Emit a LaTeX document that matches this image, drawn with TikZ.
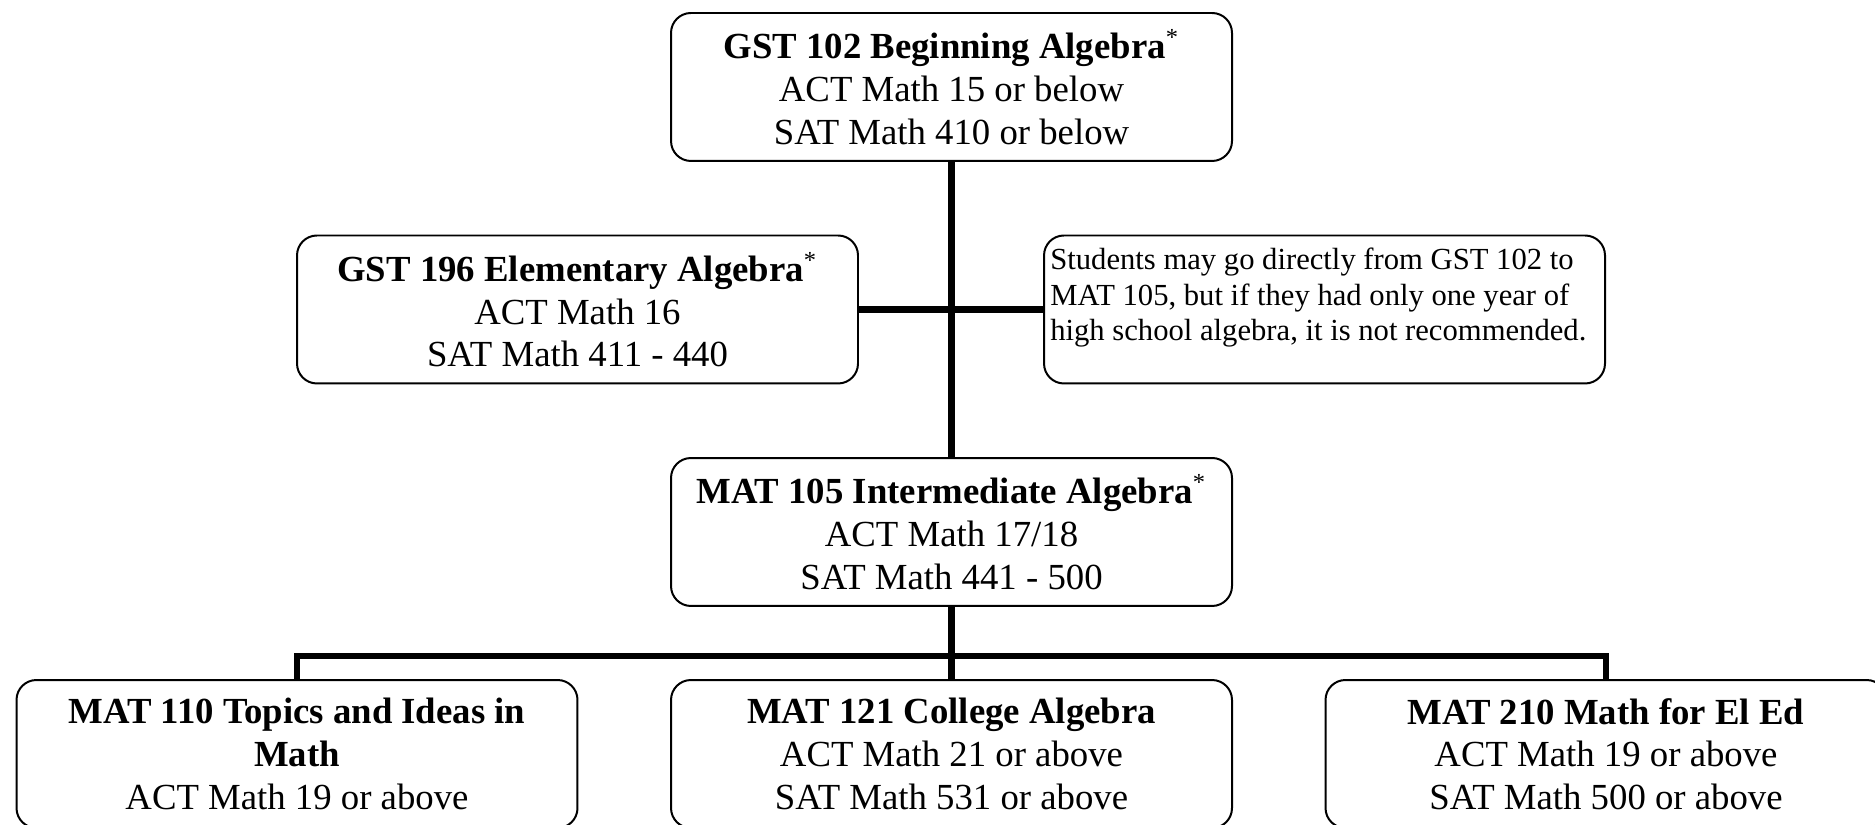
\documentclass[tikz,border=0pt]{standalone}
\usepackage{fontspec}
\setmainfont{Liberation Serif}
\usepackage{tikz}
\usetikzlibrary{positioning}
\tikzset{
  course/.style={rectangle, rounded corners=6.5pt, draw=black, line width=0.65pt,
                 fill=white, minimum width=183.1pt, minimum height=48.3pt,
                 inner sep=2pt, align=center,
                 font=\fontsize{12}{13.9}\selectfont},
  memo/.style={course, inner xsep=2pt, inner ysep=4.2pt,
               font=\fontsize{10}{11.5}\selectfont},
  link/.style={line width=2pt, black},
}
\newcommand{\ctitle}[1]{\textbf{#1}}

\begin{document}
\begin{tikzpicture}[x=0.3264pt, y=-0.3264pt]
  % ── Canvas ──────────────────────────────────────────────────────────────────
  \path[use as bounding box, fill=white] (0,0) rectangle (1875,825);
  \clip (0,0) rectangle (1875,825);

  % ── Connectors (behind the boxes) ──────────────────────────────────────────
  \coordinate (bus) at (951.5,656);

  % ── Nodes ──────────────────────────────────────────────────────────────────
  \node[course] at (951.5, 87)   (gst102) {\ctitle{GST 102 Beginning Algebra}\textsuperscript{*}\\ACT Math 15 or below\\SAT Math 410 or below};
  \node[course] at (577.5, 309.5) (gst196) {\ctitle{GST 196 Elementary Algebra}\textsuperscript{*}\\ACT Math 16\\SAT Math 411 - 440};
  \node[memo]   at (1324.5,309.5) (note)   {\parbox[t][39.9pt][t]{179pt}{\raggedright
      Students may go directly from GST 102 to\\MAT 105, but if they had only one year of\\high school algebra, it is not recommended.}};
  \node[course] at (951.5, 532)  (mat105) {\ctitle{MAT 105 Intermediate Algebra}\textsuperscript{*}\\ACT Math 17/18\\SAT Math 441 - 500};
  \node[course] at (297, 754)    (mat110) {\ctitle{MAT 110 Topics and Ideas in}\\\ctitle{Math}\\ACT Math 19 or above};
  \node[course] at (951.5, 754)  (mat121) {\ctitle{MAT 121 College Algebra}\\ACT Math 21 or above\\SAT Math 531 or above};
  \node[course] at (1606, 754)   (mat210) {\ctitle{MAT 210 Math for El Ed}\\ACT Math 19 or above\\SAT Math 500 or above};

  % ── Lines ──────────────────────────────────────────────────────────────────
  \draw[link] (gst102.south) -- (mat105.north);
  \draw[link] (gst196.east)  -- (note.west);
  \draw[link] (mat105.south) -- (bus);
  \draw[link] (mat110.north) |- (bus) -| (mat210.north);
  \draw[link] (bus) -- (mat121.north);
\end{tikzpicture}
\end{document}
